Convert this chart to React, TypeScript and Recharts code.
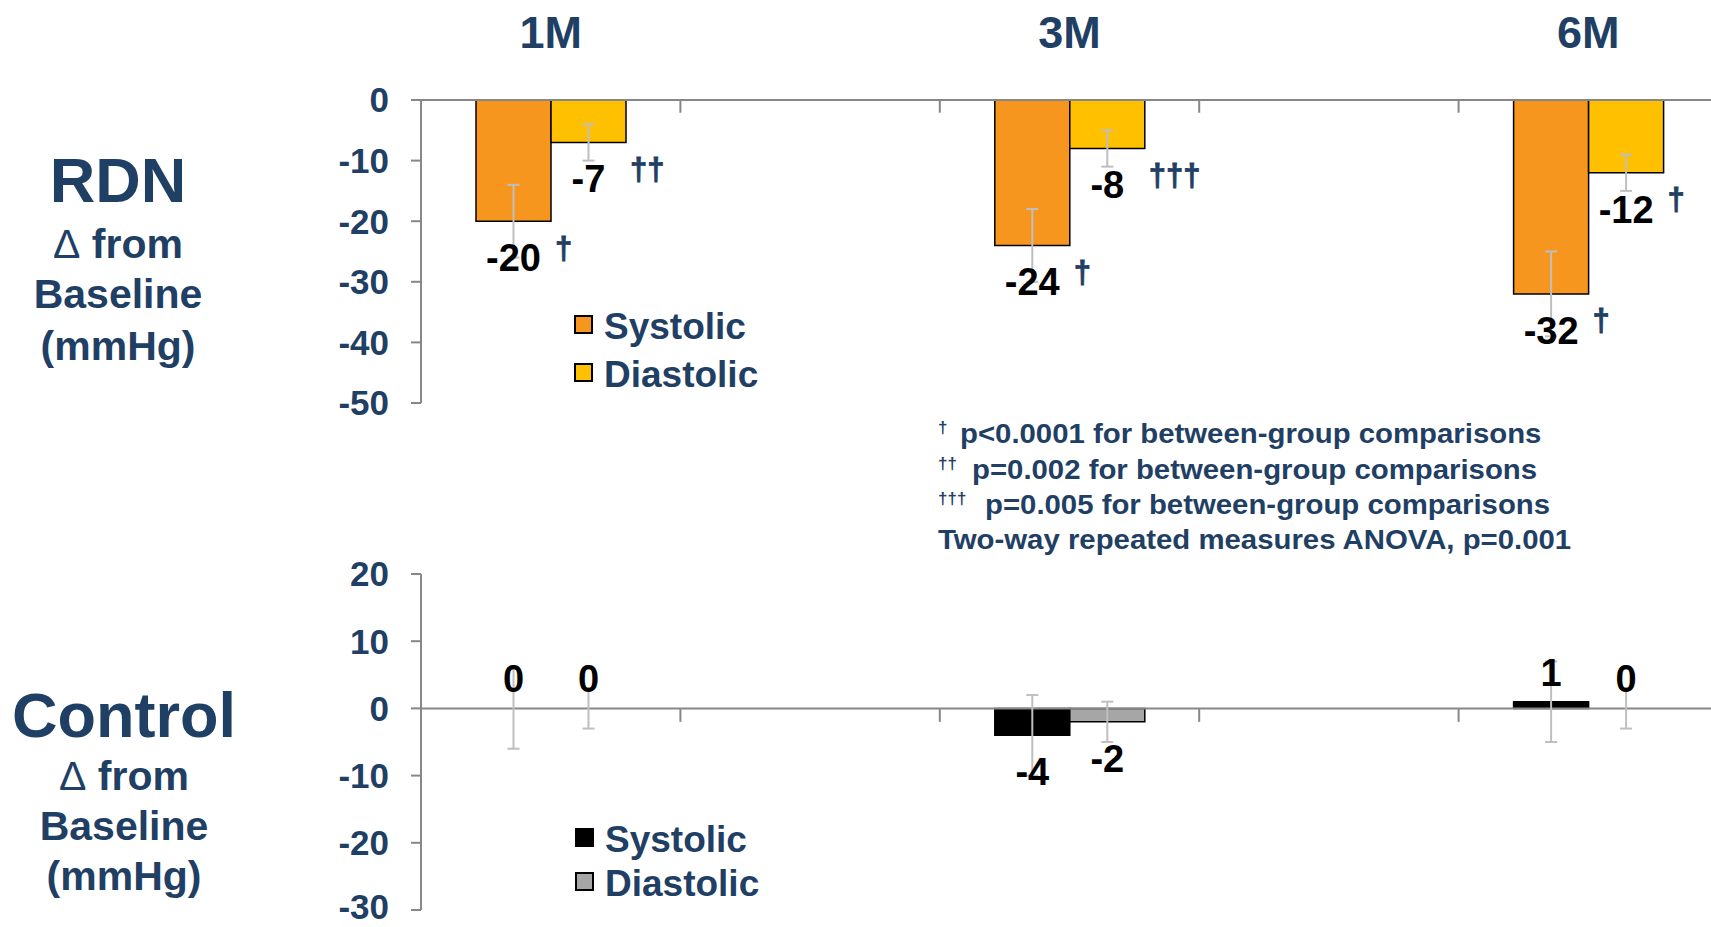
import React from 'react'
import { Bar, BarChart, Cell, ErrorBar, LabelList, Legend, ReferenceLine, XAxis, YAxis } from 'recharts'

// categories (2M and 4M are empty slots, as on the original time axis)
const months = ['1M', '2M', '3M', '4M', '6M']
const monthTitles = ['1M', '', '3M', '', '6M']
const seriesNames = ['Systolic', 'Diastolic']

// RDN group
const rdnSystolic = [-20, null, -24, null, -32]
const rdnDiastolic = [-7, null, -8, null, -12]
const rdnSystolicErr = [6, null, 6, null, 7]
const rdnDiastolicErr = [3, null, 3, null, 3]
const rdnSystolicMarks = ['†', '', '†', '', '†']
const rdnDiastolicMarks = ['††', '', '†††', '', '†']
const rdnTicks = [0, -10, -20, -30, -40, -50]

// Control group
const ctlSystolic = [0, null, -4, null, 1]
const ctlDiastolic = [0, null, -2, null, 0]
const ctlSystolicErr = [6, null, 6, null, 6]
const ctlDiastolicErr = [3, null, 3, null, 3]
const ctlTicks = [20, 10, 0, -10, -20, -30]

const groupTitles = ['RDN', 'Control']
const axisCaption = ['\u0394 from', 'Baseline', '(mmHg)']
const noteMarks = ['†', '††', '†††', '']
const noteTexts = [
  'p<0.0001 for between-group comparisons',
  'p=0.002 for between-group comparisons',
  'p=0.005 for between-group comparisons',
  'Two-way repeated measures ANOVA, p=0.001',
]

const NAVY = '#1F4064'
const AXIS = '#878787'
const ERR = '#BFBFBF'
const SANS = "'Liberation Sans', Arial, sans-serif"
const NARROW = "'Liberation Sans Narrow', 'Arial Narrow', 'Liberation Sans', Arial, sans-serif"

const rdnData = months.map((m, i) => ({
  month: m,
  sys: rdnSystolic[i],
  dia: rdnDiastolic[i],
  sysErr: rdnSystolicErr[i],
  diaErr: rdnDiastolicErr[i],
  sysMark: rdnSystolicMarks[i],
  diaMark: rdnDiastolicMarks[i],
}))

const ctlData = months.map((m, i) => ({
  month: m,
  sys: ctlSystolic[i],
  dia: ctlDiastolic[i],
  sysErr: ctlSystolicErr[i],
  diaErr: ctlDiastolicErr[i],
}))

const barEnd = (y: number, height: number, positive: boolean) =>
  positive ? Math.min(y, y + height) : Math.max(y, y + height)

const ValueLabel = (props: any) => {
  const { x, y, width, height, value } = props
  if (value == null) return null
  const up = value >= 0
  const end = barEnd(+y, +height, up)
  return (
    <text
      x={+x + +width / 2}
      y={up ? end - 29 : end + 37}
      textAnchor="middle"
      dominantBaseline="central"
      fill="#000"
      fontFamily={NARROW}
      fontWeight="bold"
      fontSize={38}
    >
      {Math.round(value)}
    </text>
  )
}

const MarkLabel = (props: any) => {
  const { x, y, width, height, value } = props
  if (!value) return null
  const end = barEnd(+y, +height, false)
  return (
    <text
      x={+x + +width + 4}
      y={end + 27}
      dominantBaseline="central"
      fill={NAVY}
      stroke={NAVY}
      strokeWidth={0.8}
      fontFamily={SANS}
      fontWeight="bold"
      fontSize={31}
    >
      {value}
    </text>
  )
}

const MonthTick = (props: any) => {
  const { x, y, payload } = props
  const label = monthTitles[months.indexOf(payload.value)]
  if (!label) return null
  return (
    <text x={x} y={y} textAnchor="middle" fill={NAVY} fontFamily={SANS} fontWeight="bold" fontSize={45}>
      {label}
    </text>
  )
}

const LegendBox = ({ payload, rowHeight }: any) => {
  const items = [...(payload || [])].sort(
    (a: any, b: any) => seriesNames.indexOf(a.value) - seriesNames.indexOf(b.value),
  )
  return (
    <div>
      {items.map((p: any) => (
        <div key={p.value} style={{ display: 'flex', alignItems: 'center', height: rowHeight }}>
          <span
            style={{
              display: 'inline-block',
              width: 19,
              height: 19,
              background: p.color,
              border: '2px solid #000',
              boxSizing: 'border-box',
              marginRight: 11,
              position: 'relative',
              top: -2,
            }}
          />
          <span style={{ fontFamily: SANS, fontWeight: 'bold', fontSize: 37, color: NAVY, lineHeight: 1 }}>
            {p.value}
          </span>
        </div>
      ))}
    </div>
  )
}

const yTick = { fill: NAVY, fontSize: 35, fontWeight: 'bold', fontFamily: SANS }
const axisLine = { stroke: AXIS, strokeWidth: 2 }

const boundaryTicks = (depth: number) =>
  months.slice(0, -1).map((m) => (
    <ReferenceLine
      key={`b-${m}`}
      segment={[{ x: m, y: 0 }, { x: m, y: -depth }]}
      position="end"
      stroke={AXIS}
      strokeWidth={2}
    />
  ))

// zero-valued bars keep a hair-thin, unstroked body so their label and error bar still draw
const zeroCells = (values: (number | null)[], stroke: string) =>
  values.map((v, i) => <Cell key={`c-${i}`} stroke={v === 0 ? 'none' : stroke} />)

export default function App() {
  return (
    <div
      style={{
        position: 'absolute',
        left: 0,
        top: 0,
        width: 1711,
        height: 927,
        overflow: 'hidden',
        background: '#fff',
      }}
    >
      <div style={{ position: 'absolute', left: 0, top: 0 }}>
        <BarChart
          width={1718}
          height={423}
          data={rdnData}
          margin={{ top: 0, right: 0, bottom: 20, left: 0 }}
          barGap={0}
          barSize={75}
        >
          <XAxis
            dataKey="month"
            orientation="top"
            height={100}
            axisLine={axisLine}
            tickLine={false}
            tickSize={0}
            tickMargin={52}
            interval={0}
            tick={<MonthTick />}
          />
          <YAxis
            domain={[-50, 0]}
            ticks={rdnTicks}
            width={421}
            tickSize={10}
            tickMargin={22}
            axisLine={axisLine}
            tickLine={axisLine}
            tick={yTick}
            allowDataOverflow
          />
          {boundaryTicks(2.1)}
          <Bar dataKey="sys" name="Systolic" fill="#F7961E" stroke="#000" strokeWidth={1.5} isAnimationActive={false}>
            <ErrorBar dataKey="sysErr" width={6} stroke={ERR} strokeWidth={2} isAnimationActive={false} />
            <LabelList dataKey="sys" content={ValueLabel} />
            <LabelList dataKey="sysMark" content={MarkLabel} />
          </Bar>
          <Bar dataKey="dia" name="Diastolic" fill="#FFC000" stroke="#000" strokeWidth={1.5} isAnimationActive={false}>
            <ErrorBar dataKey="diaErr" width={6} stroke={ERR} strokeWidth={2} isAnimationActive={false} />
            <LabelList dataKey="dia" content={ValueLabel} />
            <LabelList dataKey="diaMark" content={MarkLabel} />
          </Bar>
          <Legend
            layout="vertical"
            align="center"
            verticalAlign="middle"
            wrapperStyle={{ left: 574, top: 302, width: 240 }}
            content={(p: any) => <LegendBox payload={p.payload} rowHeight={48} />}
          />
        </BarChart>
      </div>

      <div style={{ position: 'absolute', left: 0, top: 554 }}>
        <BarChart
          width={1718}
          height={373}
          data={ctlData}
          margin={{ top: 20, right: 0, bottom: 17, left: 0 }}
          barGap={0}
          barSize={75}
        >
          <XAxis dataKey="month" hide />
          <YAxis
            domain={[-30, 20]}
            ticks={ctlTicks}
            width={421}
            tickSize={10}
            tickMargin={22}
            axisLine={axisLine}
            tickLine={axisLine}
            tick={yTick}
            allowDataOverflow
          />
          <ReferenceLine y={0} stroke={AXIS} strokeWidth={2} />
          {boundaryTicks(2)}
          <Bar
            dataKey="sys"
            name="Systolic"
            fill="#000"
            stroke="#000"
            strokeWidth={1.5}
            minPointSize={0.01}
            isAnimationActive={false}
          >
            {zeroCells(ctlSystolic, '#000')}
            <ErrorBar dataKey="sysErr" width={6} stroke={ERR} strokeWidth={2} isAnimationActive={false} />
            <LabelList dataKey="sys" content={ValueLabel} />
          </Bar>
          <Bar
            dataKey="dia"
            name="Diastolic"
            fill="#A6A6A6"
            stroke="#000"
            strokeWidth={1.5}
            minPointSize={0.01}
            isAnimationActive={false}
          >
            {zeroCells(ctlDiastolic, '#000')}
            <ErrorBar dataKey="diaErr" width={6} stroke={ERR} strokeWidth={2} isAnimationActive={false} />
            <LabelList dataKey="dia" content={ValueLabel} />
          </Bar>
          <Legend
            layout="vertical"
            align="center"
            verticalAlign="middle"
            wrapperStyle={{ left: 575, top: 264, width: 240 }}
            content={(p: any) => <LegendBox payload={p.payload} rowHeight={43.5} />}
          />
        </BarChart>
      </div>

      <svg
        width={1711}
        height={927}
        style={{ position: 'absolute', left: 0, top: 0, pointerEvents: 'none' }}
        fontFamily={SANS}
        fontWeight="bold"
        fill={NAVY}
      >
        {[
          { cx: 118, title: 201.5, lines: [258.3, 308.3, 359.5] },
          { cx: 124, title: 736.7, lines: [790, 840, 890] },
        ].map((g, gi) => (
          <g key={groupTitles[gi]} textAnchor="middle">
            <text x={g.cx} y={g.title} fontSize={63}>
              {groupTitles[gi]}
            </text>
            {axisCaption.map((line, li) => (
              <text key={line} x={g.cx} y={g.lines[li]} fontSize={41}>
                {li === 0 ? (
                  <>
                    <tspan fontWeight="normal">{line.slice(0, 1)}</tspan>
                    {line.slice(1)}
                  </>
                ) : (
                  line
                )}
              </text>
            ))}
          </g>
        ))}

        {noteTexts.map((t, i) => {
          const base = 443.3 + i * 35.3
          const textX = [960, 972, 985, 938][i]
          return (
            <g key={t}>
              {noteMarks[i] && (
                <text x={938} y={base - 10} fontSize={17}>
                  {noteMarks[i]}
                </text>
              )}
              <text transform={`translate(${textX} ${base}) scale(1.06 1)`} fontSize={27.7}>
                {t}
              </text>
            </g>
          )
        })}
      </svg>
    </div>
  )
}
